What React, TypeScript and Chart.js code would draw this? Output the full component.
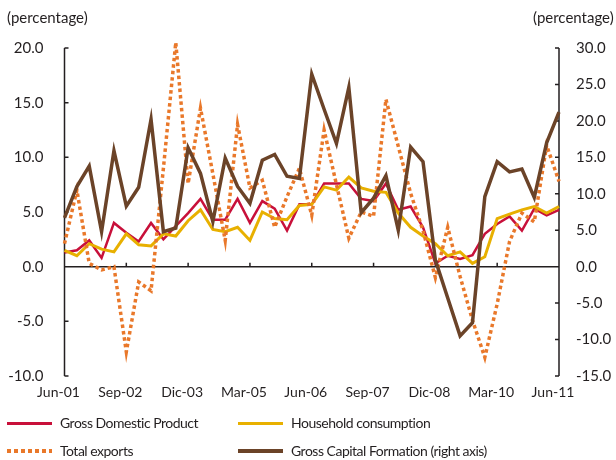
import React, { useEffect, useRef } from "react";
import { Chart, registerables } from "chart.js";

Chart.register(...registerables);

// ---------- data ----------
const quarters = [
  "Jun-01", "Sep-01", "Dic-01", "Mar-02", "Jun-02", "Sep-02", "Dic-02", "Mar-03", "Jun-03", "Sep-03",
  "Dic-03", "Mar-04", "Jun-04", "Sep-04", "Dic-04", "Mar-05", "Jun-05", "Sep-05", "Dic-05", "Mar-06",
  "Jun-06", "Sep-06", "Dic-06", "Mar-07", "Jun-07", "Sep-07", "Dic-07", "Mar-08", "Jun-08", "Sep-08",
  "Dic-08", "Mar-09", "Jun-09", "Sep-09", "Dic-09", "Mar-10", "Jun-10", "Sep-10", "Dic-10", "Mar-11",
  "Jun-11",
];

// every 5th quarter is labelled on the axis
const xTickLabels = ["Jun-01", "Sep-02", "Dic-03", "Mar-05", "Jun-06", "Sep-07", "Dic-08", "Mar-10", "Jun-11"];

const gdp = [
  1.3, 1.5, 2.4, 0.8, 4.0, 3.1, 2.3, 4.0, 2.5, 3.7,
  4.9, 6.2, 4.3, 4.3, 6.2, 4.0, 6.0, 5.3, 3.3, 5.7,
  5.7, 7.6, 7.6, 7.6, 6.2, 6.0, 7.6, 5.2, 5.5, 3.6,
  0.3, 1.0, 0.7, 1.05, 3.0, 3.9, 4.6, 3.3, 5.3, 4.7,
  5.2,
];

const household = [
  1.5, 1.0, 2.1, 1.6, 1.35, 3.0, 2.0, 1.9, 3.0, 2.8,
  4.2, 5.2, 3.4, 3.2, 3.6, 2.4, 5.0, 4.4, 4.3, 5.6,
  5.7, 7.3, 7.0, 8.2, 7.2, 6.9, 6.8, 4.9, 3.6, 2.8,
  2.1, 1.0, 1.35, 0.3, 0.9, 4.4, 4.8, 5.2, 5.5, 4.9,
  5.5,
];

const totalExports = [
  2.1, 7.0, 0.3, -0.3, 0.0, -7.8, -1.4, -2.2, 9.0, 20.5,
  7.6, 14.5, 8.5, 2.4, 13.0, 7.2, 7.9, 3.6, 6.4, 9.0,
  4.7, 12.5, 7.5, 2.6, 5.0, 4.6, 15.3, 11.0, 6.7, 3.3,
  -1.0, 3.6, -0.9, -4.9, -8.3, -3.4, 2.3, 4.9, 4.1, 11.1,
  7.8,
];

const grossCapitalFormation = [
  6.7, 11.0, 13.8, 4.8, 15.9, 8.3, 10.9, 20.2, 4.8, 5.3,
  16.3, 12.8, 6.2, 14.9, 11.0, 8.7, 14.6, 15.4, 12.4, 12.1,
  26.4, 21.6, 16.9, 24.6, 7.4, 9.4, 12.5, 5.0, 16.4, 14.4,
  0.9, -4.3, -9.5, -7.7, 9.6, 14.4, 13.0, 13.4, 9.5, 17.0,
  21.2,
];

const seriesNames = [
  "Gross Domestic Product",
  "Household consumption",
  "Total exports",
  "Gross Capital Formation (right axis)",
];

// ---------- styles ----------
const FONT = "Lato, 'Open Sans', sans-serif";
const TEXT = "#231F20";
const C_GDP = "#C8103A";
const C_HH = "#E8B000";
const C_EXP = "#E9782A";
const C_GCF = "#6B4328";

const W = 616;
const H = 460;
const LEFT_W = 64.5;
const RIGHT_W = 57;
const TOP_PAD = 48;
const BOTTOM_H = 84;
const LABEL_EVERY = 5;

const axisPlugin = {
  id: "customAxes",
  beforeDatasetsDraw(chart: any) {
    const { ctx, chartArea: ca, scales } = chart;
    const y = scales.y;
    const y1 = scales.y1;
    const x = scales.x;
    ctx.save();
    ctx.strokeStyle = TEXT;
    ctx.lineWidth = 1.5;
    ctx.beginPath();
    ctx.moveTo(ca.left, ca.top);
    ctx.lineTo(ca.left, ca.bottom);
    y.ticks.forEach((t: any) => {
      const py = y.getPixelForValue(t.value);
      ctx.moveTo(ca.left, py);
      ctx.lineTo(ca.left + 4, py);
    });
    ctx.moveTo(ca.right, ca.top);
    ctx.lineTo(ca.right, ca.bottom);
    y1.ticks.forEach((t: any) => {
      const py = y1.getPixelForValue(t.value);
      ctx.moveTo(ca.right, py);
      ctx.lineTo(ca.right - 4, py);
    });
    const y0 = y.getPixelForValue(0);
    ctx.moveTo(ca.left, y0);
    ctx.lineTo(ca.right, y0);
    for (let i = LABEL_EVERY; i < quarters.length; i += LABEL_EVERY) {
      const px = x.getPixelForValue(i);
      ctx.moveTo(px, y0);
      ctx.lineTo(px, y0 - 4);
    }
    ctx.stroke();
    ctx.restore();
  },
};

const legendItems = [
  { name: seriesNames[0], color: C_GDP, dotted: false, width: 3, left: 7, top: 423 },
  { name: seriesNames[1], color: C_HH, dotted: false, width: 3, left: 238, top: 423 },
  { name: seriesNames[2], color: C_EXP, dotted: true, width: 4, left: 7, top: 451 },
  { name: seriesNames[3], color: C_GCF, dotted: false, width: 3.5, left: 238, top: 451 },
];

export default function App() {
  const canvasRef = useRef<HTMLCanvasElement | null>(null);

  useEffect(() => {
    document.body.style.margin = "0";
    const canvas = canvasRef.current;
    if (!canvas) return;
    const tickFont = { family: FONT, size: 15 };
    const xFont = { family: FONT, size: 14 };
    const chart = new Chart(canvas, {
      type: "line",
      data: {
        labels: quarters,
        datasets: [
          {
            label: seriesNames[3],
            data: grossCapitalFormation,
            yAxisID: "y1",
            borderColor: C_GCF,
            borderWidth: 3.5,
            pointRadius: 0,
            tension: 0,
            fill: false,
            order: 0,
          },
          {
            label: seriesNames[2],
            data: totalExports,
            yAxisID: "y",
            borderColor: C_EXP,
            borderWidth: 3.5,
            borderDash: [3.5, 3],
            borderCapStyle: "butt",
            pointRadius: 0,
            tension: 0,
            fill: false,
            clip: false,
            order: 1,
          },
          {
            label: seriesNames[1],
            data: household,
            yAxisID: "y",
            borderColor: C_HH,
            borderWidth: 3,
            pointRadius: 0,
            tension: 0,
            fill: false,
            order: 2,
          },
          {
            label: seriesNames[0],
            data: gdp,
            yAxisID: "y",
            borderColor: C_GDP,
            borderWidth: 2.5,
            pointRadius: 0,
            tension: 0,
            fill: false,
            order: 3,
          },
        ],
      },
      options: {
        responsive: false,
        animation: false,
        devicePixelRatio: 1,
        layout: { padding: { top: TOP_PAD, left: 0, right: 0, bottom: 0 } },
        plugins: { legend: { display: false }, tooltip: { enabled: false } },
        scales: {
          x: {
            type: "category",
            position: "bottom",
            offset: false,
            grid: { display: false, drawTicks: false },
            border: { display: false },
            ticks: {
              autoSkip: false,
              maxRotation: 0,
              minRotation: 0,
              padding: 8,
              labelOffset: -6,
              color: TEXT,
              font: xFont,
              callback: (_v: any, idx: number) =>
                idx % LABEL_EVERY === 0 ? xTickLabels[idx / LABEL_EVERY] ?? "" : "",
            },
            afterFit: (s: any) => {
              s.height = BOTTOM_H;
            },
          },
          y: {
            type: "linear",
            position: "left",
            min: -10,
            max: 20,
            grid: { display: false, drawTicks: false },
            border: { display: false },
            ticks: {
              stepSize: 5,
              padding: 21,
              color: TEXT,
              font: tickFont,
              callback: (v: any) => Number(v).toFixed(1),
            },
            afterFit: (s: any) => {
              s.width = LEFT_W;
            },
          },
          y1: {
            type: "linear",
            position: "right",
            min: -15,
            max: 30,
            grid: { display: false, drawTicks: false },
            border: { display: false },
            ticks: {
              stepSize: 5,
              padding: 17,
              color: TEXT,
              font: tickFont,
              callback: (v: any) => Number(v).toFixed(1),
            },
            afterFit: (s: any) => {
              s.width = RIGHT_W;
            },
          },
        },
      },
      plugins: [axisPlugin],
    } as any);
    return () => chart.destroy();
  }, []);

  const textStyle: React.CSSProperties = {
    position: "absolute",
    fontFamily: FONT,
    fontSize: 15,
    color: TEXT,
    whiteSpace: "nowrap",
    lineHeight: "18px",
  };

  return (
    <div style={{ position: "relative", width: W, height: H, background: "#fff" }}>
      <canvas ref={canvasRef} width={W} height={H} style={{ width: W, height: H, display: "block" }} />
      <div style={{ ...textStyle, left: 7, top: 8 }}>(percentage)</div>
      <div style={{ ...textStyle, left: 533, top: 8 }}>(percentage)</div>
      {legendItems.map((it) => (
        <div key={it.name} style={{ position: "absolute", left: it.left, top: it.top - 9, height: 18 }}>
          <div
            style={{
              position: "absolute",
              left: 0,
              top: 9 - it.width / 2,
              width: 45,
              height: it.width,
              background: it.dotted
                ? `repeating-linear-gradient(to right, ${it.color} 0px, ${it.color} 4px, transparent 4px, transparent 7px)`
                : it.color,
            }}
          />
          <div style={{ ...textStyle, left: 53, top: 0, fontSize: 14, letterSpacing: "-0.5px" }}>{it.name}</div>
        </div>
      ))}
    </div>
  );
}
